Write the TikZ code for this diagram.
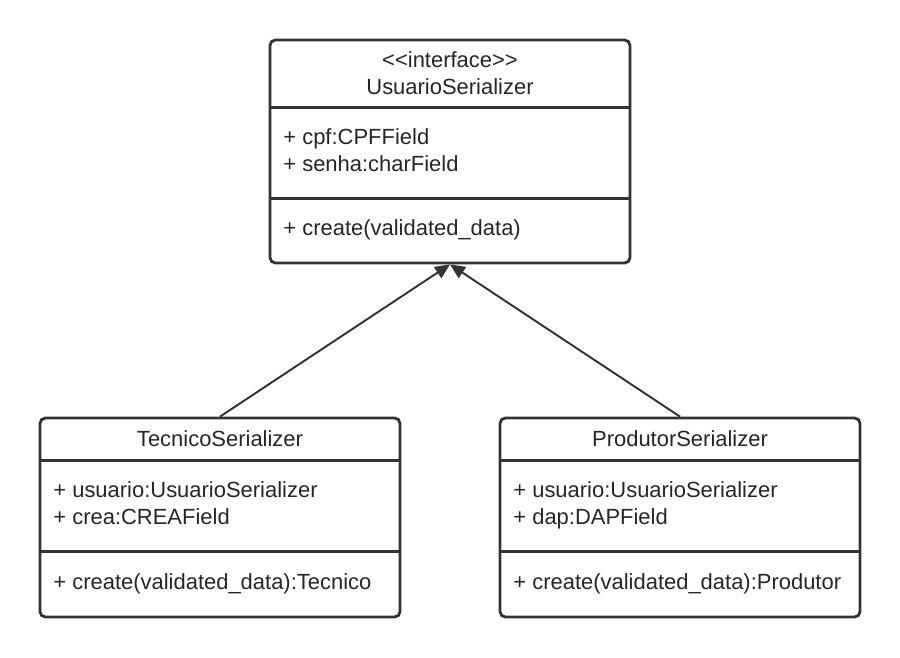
\documentclass[tikz,border=0pt]{standalone}
\usepackage{fontspec}
\setmainfont{Liberation Sans}
\usetikzlibrary{positioning,arrows.meta}
\definecolor{umlline}{HTML}{333333}

\begin{document}
\begin{tikzpicture}[
    x=0.02cm, y=-0.02cm,
    font=\fontsize{12.5}{15.2}\selectfont,
    classbox/.style={rectangle, draw=umlline, line width=1.6pt, rounded corners=3pt, minimum width=7.2cm},
    part/.style={rectangle, inner sep=0pt, outer sep=0pt, minimum width=7.2cm, align=center, text=black!85},
    membertext/.style={inner sep=0pt, align=left, text=black!85},
    divider/.style={draw=umlline, line width=1.6pt},
    arrow/.style={-{Triangle[length=8.5pt, width=7.5pt]}, draw=umlline, fill=umlline, line width=1.1pt}
]
\useasboundingbox (0,0) rectangle (900,657);

% UsuarioSerializer
\node[classbox, minimum height=4.46cm] (usuario) at (450,151.5) {};
\node[part, minimum height=1.38cm, below=0pt of usuario.north] (usuariotitle) {<{}<interface>{}>\\UsuarioSerializer};
\node[part, minimum height=1.82cm, below=0pt of usuariotitle] (usuarioattr) {};
\node[part, minimum height=1.26cm, below=0pt of usuarioattr] (usuariometh) {};
\node[membertext, below right=0.42cm and 0.26cm of usuarioattr.north west] (usuarioattrtext) {+ cpf:CPFField\\+ senha:charField};
\node[membertext, right=0.26cm of usuariometh.west] (usuariomethtext) {+ create(validated\_data)};
\draw[divider] (usuariotitle.south west) -- (usuariotitle.south east);
\draw[divider] (usuarioattr.south west) -- (usuarioattr.south east);

% TecnicoSerializer
\node[classbox, minimum height=3.98cm] (tecnico) at (220,517.5) {};
\node[part, minimum height=0.88cm, below=0pt of tecnico.north] (tecnicotitle) {TecnicoSerializer};
\node[part, minimum height=1.82cm, below=0pt of tecnicotitle] (tecnicoattr) {};
\node[part, minimum height=1.28cm, below=0pt of tecnicoattr] (tecnicometh) {};
\node[membertext, below right=0.42cm and 0.26cm of tecnicoattr.north west] (tecnicoattrtext) {+ usuario:UsuarioSerializer\\+ crea:CREAField};
\node[membertext, right=0.26cm of tecnicometh.west] (tecnicomethtext) {+ create(validated\_data):Tecnico};
\draw[divider] (tecnicotitle.south west) -- (tecnicotitle.south east);
\draw[divider] (tecnicoattr.south west) -- (tecnicoattr.south east);

% ProdutorSerializer
\node[classbox, minimum height=3.98cm] (produtor) at (680,517.5) {};
\node[part, minimum height=0.88cm, below=0pt of produtor.north] (produtortitle) {ProdutorSerializer};
\node[part, minimum height=1.82cm, below=0pt of produtortitle] (produtorattr) {};
\node[part, minimum height=1.28cm, below=0pt of produtorattr] (produtormeth) {};
\node[membertext, below right=0.42cm and 0.26cm of produtorattr.north west] (produtorattrtext) {+ usuario:UsuarioSerializer\\+ dap:DAPField};
\node[membertext, right=0.26cm of produtormeth.west] (produtormethtext) {+ create(validated\_data):Produtor};
\draw[divider] (produtortitle.south west) -- (produtortitle.south east);
\draw[divider] (produtorattr.south west) -- (produtorattr.south east);

% Arrows
\draw[arrow] (tecnico.north) -- (usuario.south);
\draw[arrow] (produtor.north) -- (usuario.south);

\end{tikzpicture}
\end{document}
